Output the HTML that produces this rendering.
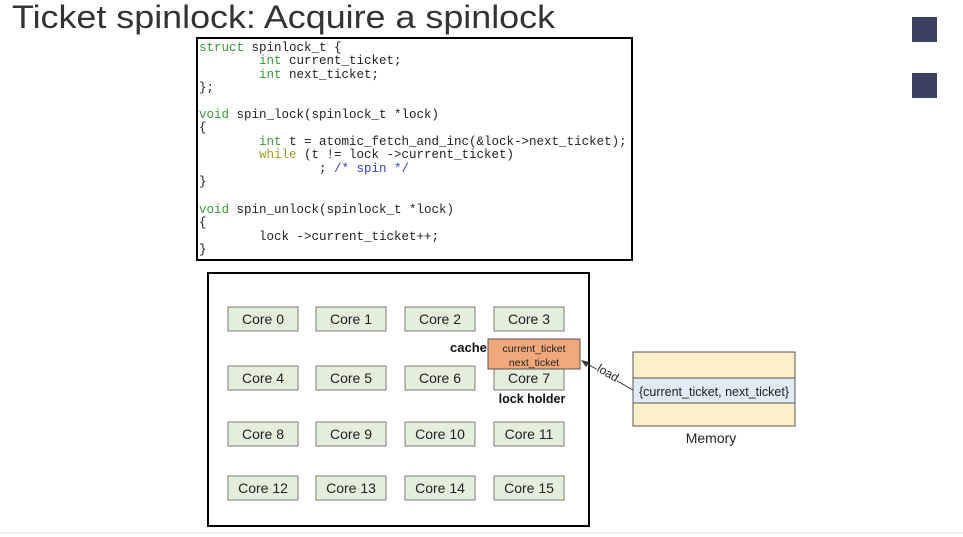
<!DOCTYPE html>
<html><head><meta charset="utf-8"><style>
html,body{margin:0;padding:0;background:#fff;}
svg{display:block;}
</style></head><body>
<svg width="963" height="537" xmlns="http://www.w3.org/2000/svg" font-family="Liberation Sans, sans-serif">
<rect width="963" height="537" fill="#fff"/>
<text x="12" y="28" font-size="32" fill="#333" textLength="543" lengthAdjust="spacingAndGlyphs">Ticket spinlock: Acquire a spinlock</text>
<rect x="912" y="17" width="25" height="25" fill="#3b4163"/>
<rect x="912" y="73" width="25" height="25" fill="#3b4163"/>
<line x1="0" y1="533" x2="963" y2="533" stroke="#ddd"/>
<!-- code box -->
<rect x="197" y="38" width="435" height="222" fill="#fff" stroke="#000" stroke-width="2"/>
<g font-family="Liberation Mono, monospace" font-size="12.5" fill="#222">
<text x="199" y="51"><tspan fill="#3a9a3a">struct</tspan> spinlock_t {</text>
<text x="259" y="64"><tspan fill="#3a9a3a">int</tspan> current_ticket;</text>
<text x="259" y="78"><tspan fill="#3a9a3a">int</tspan> next_ticket;</text>
<text x="199" y="91">};</text>
<text x="199" y="118"><tspan fill="#3a9a3a">void</tspan> spin_lock(spinlock_t *lock)</text>
<text x="199" y="131">{</text>
<text x="259" y="145"><tspan fill="#3a9a3a">int</tspan> t = atomic_fetch_and_inc(&amp;lock-&gt;next_ticket);</text>
<text x="259" y="158"><tspan fill="#9a9a20">while</tspan> (t != lock -&gt;current_ticket)</text>
<text x="319" y="172">; <tspan fill="#3344bb">/* spin */</tspan></text>
<text x="199" y="185">}</text>
<text x="199" y="213"><tspan fill="#3a9a3a">void</tspan> spin_unlock(spinlock_t *lock)</text>
<text x="199" y="226">{</text>
<text x="259" y="240">lock -&gt;current_ticket++;</text>
<text x="199" y="253">}</text>
</g>
<!-- cores box -->
<rect x="208" y="273" width="381" height="253" fill="#fff" stroke="#000" stroke-width="2"/>
<g font-size="14" fill="#222" text-anchor="middle">
<g fill="#e3eedb" stroke="#7a7a7a" stroke-width="1">
<rect x="228" y="307" width="70" height="24"/><rect x="316" y="307" width="70" height="24"/><rect x="405" y="307" width="70" height="24"/><rect x="494" y="307" width="70" height="24"/>
<rect x="228" y="366" width="70" height="24"/><rect x="316" y="366" width="70" height="24"/><rect x="405" y="366" width="70" height="24"/><rect x="494" y="366" width="70" height="24"/>
<rect x="228" y="422" width="70" height="24"/><rect x="316" y="422" width="70" height="24"/><rect x="405" y="422" width="70" height="24"/><rect x="494" y="422" width="70" height="24"/>
<rect x="228" y="476" width="70" height="24"/><rect x="316" y="476" width="70" height="24"/><rect x="405" y="476" width="70" height="24"/><rect x="494" y="476" width="70" height="24"/>
</g>
<text x="263" y="324">Core 0</text><text x="351" y="324">Core 1</text><text x="440" y="324">Core 2</text><text x="529" y="324">Core 3</text>
<text x="263" y="383">Core 4</text><text x="351" y="383">Core 5</text><text x="440" y="383">Core 6</text><text x="529" y="383">Core 7</text>
<text x="263" y="439">Core 8</text><text x="351" y="439">Core 9</text><text x="440" y="439">Core 10</text><text x="529" y="439">Core 11</text>
<text x="263" y="493">Core 12</text><text x="351" y="493">Core 13</text><text x="440" y="493">Core 14</text><text x="529" y="493">Core 15</text>
</g>
<rect x="488" y="339" width="92" height="30" fill="#f0a77a" stroke="#555" stroke-width="1"/>
<text x="534" y="352" font-size="10.5" text-anchor="middle" fill="#222">current_ticket</text>
<text x="534" y="366" font-size="10.5" text-anchor="middle" fill="#222">next_ticket</text>
<text x="450" y="352" font-size="13" font-weight="bold" fill="#111">cache</text>
<text x="532" y="403" font-size="12.5" font-weight="bold" text-anchor="middle" fill="#111">lock holder</text>
<!-- memory -->
<rect x="633" y="352" width="162" height="74" fill="#fdf0c8" stroke="#555"/>
<rect x="633" y="378" width="162" height="25" fill="#e1ebf5" stroke="#555"/>
<text x="714" y="396" font-size="12.5" text-anchor="middle" fill="#222">{current_ticket, next_ticket}</text>
<text x="711" y="443" font-size="14" text-anchor="middle" fill="#222">Memory</text>
<line x1="633" y1="390" x2="584" y2="362" stroke="#333" stroke-width="1"/>
<polygon points="581,360 589,362 586,367" fill="#333"/>
<rect x="596" y="366" width="24" height="14" fill="#fff" transform="rotate(30 608 373)"/>
<text x="608" y="377" font-size="12" text-anchor="middle" fill="#222" transform="rotate(30 608 373)">load</text>
</svg>
</body></html>
